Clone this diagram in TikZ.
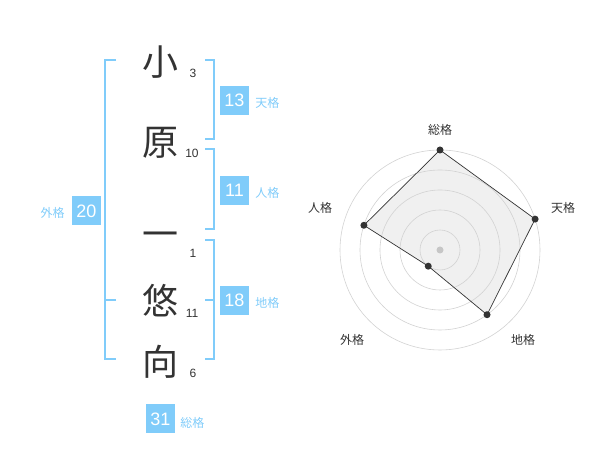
\documentclass[tikz,border=0pt]{standalone}
\usepackage{fontspec}
\setmainfont{Liberation Sans}
\newfontfamily\cjk{Noto Sans CJK JP}
\usetikzlibrary{positioning}
\definecolor{kakublue}{RGB}{128,204,250}
\definecolor{ink}{RGB}{51,51,51}

\begin{document}
\begin{tikzpicture}[x=1pt,y=1pt,inner sep=0pt,node distance=6pt]
  \tikzstyle{kanji}=[text=ink,font=\cjk\fontsize{36}{36}\selectfont]
  \tikzstyle{strokes}=[text=ink,font=\fontsize{12}{12}\selectfont]
  \tikzstyle{total}=[fill=kakublue,text=white,minimum size=29pt,font=\fontsize{18}{18}\selectfont]
  \tikzstyle{kaku}=[text=kakublue,font=\cjk\fontsize{12}{12}\selectfont]
  \tikzstyle{bracket}=[draw=kakublue,line width=2pt]
  \tikzstyle{axis}=[text=ink,font=\cjk\fontsize{12}{12}\selectfont]
  \tikzstyle{ring}=[draw=gray!35,line width=0.6pt]
  \tikzstyle{dot}=[circle,fill=ink,minimum size=7pt]

  \useasboundingbox (0,0) rectangle (600,470);

  % name
  \node[kanji] (c1) at (160,408) {小};
  \node[kanji] (c2) at (160,327) {原};
  \node[kanji] (c3) at (160,230) {一};
  \node[kanji] (c4) at (160,169) {悠};
  \node[kanji] (c5) at (160,108) {向};

  \node[strokes] (s1) at (193,397) {3};
  \node[strokes] (s2) at (192,317) {10};
  \node[strokes] (s3) at (193,217) {1};
  \node[strokes] (s4) at (192,157) {11};
  \node[strokes] (s5) at (193,97)  {6};

  % brackets
  \coordinate (gT) at (116,410); \coordinate (gM) at (116,170); \coordinate (gB) at (116,111);
  \coordinate (tT) at (205,410); \coordinate (tB) at (205,331);
  \coordinate (jT) at (205,321); \coordinate (jB) at (205,241);
  \coordinate (cT) at (205,230); \coordinate (cM) at (205,170); \coordinate (cB) at (205,111);

  \draw[bracket] (gT) -- ++(-11,0) |- (gB);
  \draw[bracket] (gM) -- ++(-11,0);
  \draw[bracket] (tT) -- ++(9,0) |- (tB);
  \draw[bracket] (jT) -- ++(9,0) |- (jB);
  \draw[bracket] (cT) -- ++(9,0) |- (cB);
  \draw[bracket] (cM) -- ++(9,0);

  % totals
  \node[total] (ten)  at (234.5,369.5) {13};
  \node[total] (jin)  at (234.5,279.5) {11};
  \node[total] (chi)  at (234.5,169.5) {18};
  \node[total] (gai)  at (86.5,259)    {20};
  \node[total] (sou)  at (160.5,51)    {31};

  \node[kaku] [right=of ten,yshift=-2pt]  {天格};
  \node[kaku] [right=of jin,yshift=-2pt]  {人格};
  \node[kaku] [right=of chi,yshift=-2pt]  {地格};
  \node[kaku] [left=7pt of gai,yshift=-2pt] {外格};
  \node[kaku] [right=5pt of sou,yshift=-4pt] {総格};

  % radar
  \coordinate (O) at (440,220);
  \path (O) ++(90:100) coordinate (pSou)
        (O) ++(18:100) coordinate (pTen)
        (O) ++(-54:80) coordinate (pChi)
        (O) ++(234:20) coordinate (pGai)
        (O) ++(162:80) coordinate (pJin);

  \fill[gray!12] (pSou) -- (pTen) -- (pChi) -- (pGai) -- (pJin) -- cycle;
  \foreach \r in {20,40,...,100}
    \draw[ring] (O) circle (\r);
  \fill[gray!45] (O) circle (3.5);
  \draw[ink,line width=0.7pt] (pSou) -- (pTen) -- (pChi) -- (pGai) -- (pJin) -- cycle;
  \foreach \p in {pSou,pTen,pChi,pGai,pJin}
    \node[dot] at (\p) {};

  \node[axis] (lSou) at (440,340) {総格};
  \node[axis] (lTen) at (563,262) {天格};
  \node[axis] (lJin) at (320,262) {人格};
  \node[axis] (lGai) at (352,130) {外格};
  \node[axis] (lChi) at (523,130) {地格};
\end{tikzpicture}
\end{document}
